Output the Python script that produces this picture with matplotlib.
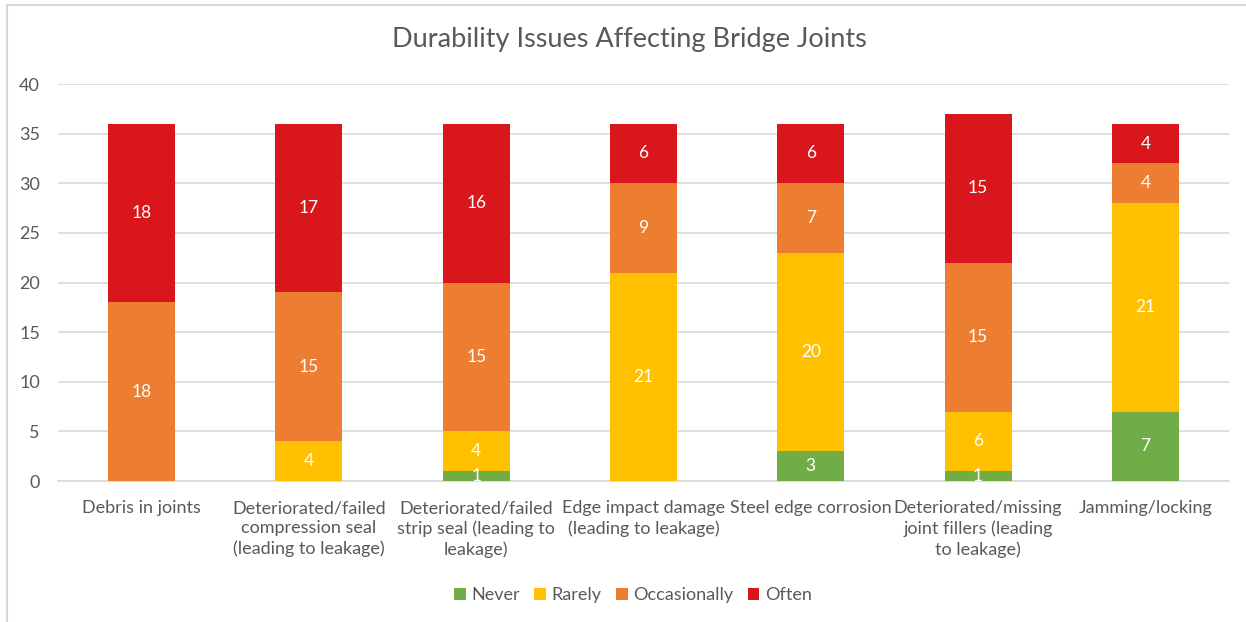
import numpy as np
import matplotlib.pyplot as plt
from matplotlib.patches import Rectangle

plt.rcParams["font.family"] = ["Lato", "DejaVu Sans"]

categories = [
    "Debris in joints",
    "Deteriorated/failed\ncompression seal\n(leading to leakage)",
    "Deteriorated/failed\nstrip seal (leading to\nleakage)",
    "Edge impact damage\n(leading to leakage)",
    "Steel edge corrosion",
    "Deteriorated/missing\njoint fillers (leading\nto leakage)",
    "Jamming/locking",
]
never = [0, 0, 1, 0, 3, 1, 7]
rarely = [0, 4, 4, 21, 20, 6, 21]
occasionally = [18, 15, 15, 9, 7, 15, 4]
often = [18, 17, 16, 6, 6, 15, 4]

series = [
    ("Never", never, "#70AD47"),
    ("Rarely", rarely, "#FFC000"),
    ("Occasionally", occasionally, "#ED7D31"),
    ("Often", often, "#D9161B"),
]

text_col = "#595959"
grid_col = "#D9D9D9"

fig = plt.figure(figsize=(12.46, 6.22), dpi=100)
ax = fig.add_axes([58 / 1246, 1 - 481 / 622, (1229 - 58) / 1246, (481 - 84) / 622])

# light chart-area frame
fig.patches.append(Rectangle((7 / 1246, -0.1), 1.2, 1 - 5 / 622 + 0.1,
                             transform=fig.transFigure, fill=False,
                             edgecolor="#D9D9D9", linewidth=1.5))

x = np.arange(len(categories))
bottom = np.zeros(len(categories))
for name, vals, col in series:
    vals = np.array(vals, dtype=float)
    ax.bar(x, vals, 0.4, bottom=bottom, color=col, label=name, zorder=3)
    for xi, b, v in zip(x, bottom, vals):
        if v > 0:
            ax.text(xi, b + v / 2, f"{int(v)}", ha="center", va="center",
                    color="white", fontsize=12.5, zorder=4)
    bottom += vals

ax.set_xlim(-0.5, len(categories) - 0.5)
ax.set_ylim(0, 40)
ax.set_yticks(range(0, 41, 5))
ax.yaxis.grid(True, color=grid_col, linewidth=1.2, zorder=0)
ax.set_axisbelow(True)
for s in ["top", "right", "left"]:
    ax.spines[s].set_visible(False)
ax.spines["bottom"].set_color(grid_col)
ax.spines["bottom"].set_linewidth(1.2)
ax.tick_params(axis="both", length=0, colors=text_col, labelsize=13)
ax.tick_params(axis="y", pad=13)
ax.tick_params(axis="x", pad=14)
ax.set_xticks(x)
ax.set_xticklabels(categories, linespacing=1.3)

fig.text(629 / 1246, 1 - 40 / 622, "Durability Issues Affecting Bridge Joints",
         ha="center", va="center", fontsize=19.5, color=text_col)

fig.legend(loc="center", bbox_to_anchor=(633 / 1246, 1 - 595 / 622), ncol=4,
           frameon=False, fontsize=13, handlelength=0.65, handleheight=0.65,
           handletextpad=0.3, columnspacing=0.8, labelcolor=text_col)

fig.savefig("out.png", dpi=100)
